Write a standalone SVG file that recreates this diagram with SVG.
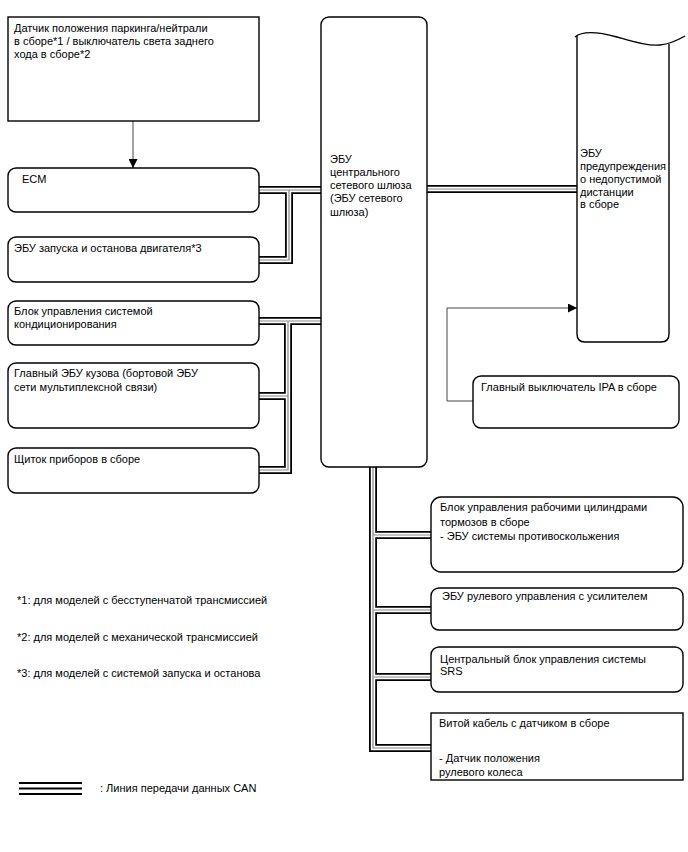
<svg xmlns="http://www.w3.org/2000/svg" width="688" height="852" viewBox="0 0 688 852">
<defs>
<style>
text{font-family:"Liberation Sans",Arial,sans-serif;font-size:11px;fill:#000}
.box{fill:#fff;stroke:#000;stroke-width:1.4}
.canb{fill:none;stroke:#000;stroke-width:8}
.canw{fill:none;stroke:#fff;stroke-width:4.4}
.cang{fill:none;stroke:#888;stroke-width:1.2}
.thin{fill:none;stroke:#444;stroke-width:1}
</style>
<marker id="arr" viewBox="0 0 10 10" refX="10" refY="5" markerWidth="9" markerHeight="9" markerUnits="userSpaceOnUse" orient="auto">
<path d="M0,0 L10,5 L0,10 z" fill="#000"/>
</marker>
</defs>
<rect width="688" height="852" fill="#fff"/>

<g id="connectors">
<path class="thin" d="M133,121 V168" marker-end="url(#arr)"/>
<path class="thin" d="M473,401 H447 V308 H577" marker-end="url(#arr)"/>
<g id="can-lines">
<path class="canb" d="M259,190 H321 M289,190 V260 H259 M259,321 H321 M288,321 V470 H259 M288,396 H259 M427,189 H577 M373,467 V748 H431 M373,535 H431 M373,610 H431 M373,677 H431"/>
<path class="canw" d="M259,190 H321 M289,190 V260 H259 M259,321 H321 M288,321 V470 H259 M288,396 H259 M427,189 H577 M373,467 V748 H431 M373,535 H431 M373,610 H431 M373,677 H431"/>
<path class="cang" d="M259,190 H321 M289,190 V260 H259 M259,321 H321 M288,321 V470 H259 M288,396 H259 M427,189 H577 M373,467 V748 H431 M373,535 H431 M373,610 H431 M373,677 H431"/>
</g>
</g>

<g id="pn-sensor">
<rect class="box" x="8" y="17" width="251" height="104"/>
<text x="14" y="32">Датчик положения паркинга/нейтрали</text>
<text x="14" y="45">в сборе*1 / выключатель света заднего</text>
<text x="14" y="58">хода в сборе*2</text>
</g>

<g id="ecm">
<rect class="box" x="8" y="168" width="251" height="44" rx="8"/>
<text x="22" y="183">ECM</text>
</g>

<g id="stop-start-ecu">
<rect class="box" x="8" y="237" width="251" height="45" rx="8"/>
<text x="14" y="252">ЭБУ запуска и останова двигателя*3</text>
</g>

<g id="ac-control">
<rect class="box" x="8" y="301" width="251" height="44" rx="8"/>
<text x="14" y="315">Блок управления системой</text>
<text x="14" y="328">кондиционирования</text>
</g>

<g id="main-body-ecu">
<rect class="box" x="8" y="363" width="251" height="65" rx="8"/>
<text x="14" y="377">Главный ЭБУ кузова (бортовой ЭБУ</text>
<text x="14" y="391">сети мультиплексной связи)</text>
</g>

<g id="combination-meter">
<rect class="box" x="8" y="448" width="251" height="45" rx="8"/>
<text x="14" y="463">Щиток приборов в сборе</text>
</g>

<g id="gateway-ecu">
<rect class="box" x="321" y="17" width="106" height="450" rx="8"/>
<text x="330" y="163">ЭБУ</text>
<text x="330" y="176">центрального</text>
<text x="330" y="189">сетевого шлюза</text>
<text x="330" y="202">(ЭБУ сетевого</text>
<text x="330" y="216">шлюза)</text>
</g>

<g id="clearance-warning-ecu">
<path class="box" d="M577,36 V334 Q577,342 585,342 H661 Q669,342 669,334 V44"/>
<path fill="none" stroke="#000" stroke-width="1.4" d="M575,37 C582,31 595,31 617,37 C635,42 648,46 660,45 C670,44 678,40 685,36"/>
<text x="580" y="157">ЭБУ</text>
<text x="580" y="170">предупреждения</text>
<text x="580" y="183">о недопустимой</text>
<text x="580" y="196">дистанции</text>
<text x="580" y="208">в сборе</text>
</g>

<g id="ipa-switch">
<rect class="box" x="473" y="376" width="206" height="52" rx="8"/>
<text x="481" y="391">Главный выключатель IPA в сборе</text>
</g>

<g id="brake-actuator">
<rect class="box" x="431" y="497" width="252" height="75" rx="10"/>
<text x="440" y="511">Блок управления рабочими цилиндрами</text>
<text x="440" y="526">тормозов в сборе</text>
<text x="440" y="540">- ЭБУ системы противоскольжения</text>
</g>

<g id="eps-ecu">
<rect class="box" x="431" y="588" width="252" height="42" rx="8"/>
<text x="442" y="600">ЭБУ рулевого управления с усилителем</text>
</g>

<g id="srs-unit">
<rect class="box" x="431" y="647" width="252" height="45" rx="8"/>
<text x="440" y="663">Центральный блок управления системы</text>
<text x="440" y="675">SRS</text>
</g>

<g id="spiral-cable">
<rect class="box" x="431" y="713" width="252" height="67"/>
<text x="439" y="727">Витой кабель с датчиком в сборе</text>
<text x="439" y="762">- Датчик положения</text>
<text x="439" y="776">рулевого колеса</text>
</g>

<g id="notes">
<text x="17" y="604">*1: для моделей с бесступенчатой трансмиссией</text>
<text x="17" y="641">*2: для моделей с механической трансмиссией</text>
<text x="17" y="677">*3: для моделей с системой запуска и останова</text>
</g>

<g id="legend">
<line x1="19" y1="783" x2="82" y2="783" stroke="#000" stroke-width="2"/>
<line x1="19" y1="788.5" x2="82" y2="788.5" stroke="#000" stroke-width="2"/>
<line x1="19" y1="794" x2="82" y2="794" stroke="#000" stroke-width="2"/>
<text x="100" y="792">: Линия передачи данных CAN</text>
</g>
</svg>
